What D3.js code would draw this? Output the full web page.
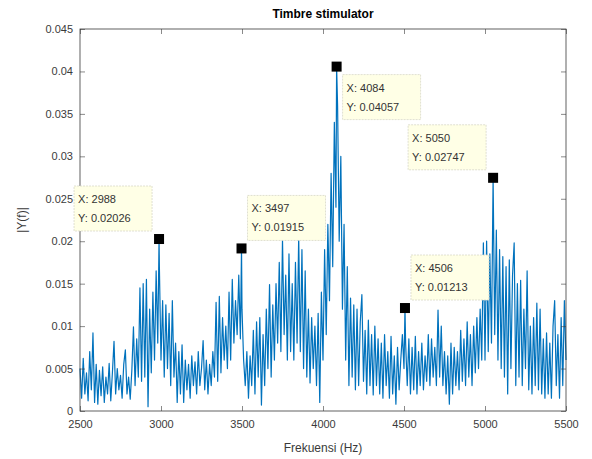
<!DOCTYPE html>
<html>
<head>
  <meta charset="utf-8">
  <title>Timbre stimulator</title>
  <script src="https://d3js.org/d3.v7.min.js"></script>
  <style>
    body { margin: 0; background: #fff; }
    svg text { font-family: "Liberation Sans", Arial, Helvetica, sans-serif; }
  </style>
</head>
<body>
  <div id="chart"></div>
  <script>
    var freqStart = 2500, freqStep = 10;
    var amps = [
      0.0050, 0.0015, 0.0062, 0.0020, 0.0045, 0.0012, 0.0070, 0.0025, 0.0092, 0.0010,
      0.0055, 0.0008, 0.0048, 0.0018, 0.0052, 0.0010, 0.0040, 0.0020, 0.0056, 0.0012,
      0.0045, 0.0082, 0.0020, 0.0050, 0.0025, 0.0042, 0.0015, 0.0055, 0.0072, 0.0020,
      0.0040, 0.0014, 0.0048, 0.0099, 0.0030, 0.0085, 0.0040, 0.0145, 0.0035, 0.0150,
      0.0040, 0.0155, 0.0005, 0.0120, 0.0045, 0.0140, 0.0060, 0.0165, 0.0080, 0.0170,
      0.0060, 0.0130, 0.0040, 0.0125, 0.0050, 0.0115, 0.0030, 0.0130, 0.0040, 0.0080,
      0.0010, 0.0070, 0.0020, 0.0078, 0.0010, 0.0060, 0.0025, 0.0055, 0.0015, 0.0065,
      0.0030, 0.0058, 0.0020, 0.0070, 0.0030, 0.0050, 0.0083, 0.0025, 0.0060, 0.0020,
      0.0055, 0.0030, 0.0070, 0.0040, 0.0128, 0.0035, 0.0135, 0.0045, 0.0110, 0.0060,
      0.0100, 0.0050, 0.0140, 0.0060, 0.0155, 0.0080, 0.0130, 0.0090, 0.0160, 0.0085,
      0.0120, 0.0060, 0.0030, 0.0070, 0.0015, 0.0065, 0.0030, 0.0095, 0.0020, 0.0105,
      0.0040, 0.0110, 0.0007, 0.0090, 0.0030, 0.0120, 0.0050, 0.0149, 0.0040, 0.0125,
      0.0060, 0.0150, 0.0080, 0.0175, 0.0070, 0.0202, 0.0090, 0.0160, 0.0060, 0.0185,
      0.0070, 0.0150, 0.0060, 0.0175, 0.0080, 0.0205, 0.0070, 0.0190, 0.0050, 0.0165,
      0.0040, 0.0120, 0.0033, 0.0110, 0.0050, 0.0100, 0.0030, 0.0115, 0.0010, 0.0140,
      0.0060, 0.0190, 0.0090, 0.0220, 0.0130, 0.0280, 0.0170, 0.0340, 0.0240, 0.0360,
      0.0200, 0.0300, 0.0120, 0.0220, 0.0060, 0.0170, 0.0030, 0.0133, 0.0040, 0.0125,
      0.0025, 0.0120, 0.0030, 0.0105, 0.0137, 0.0035, 0.0095, 0.0020, 0.0107, 0.0030,
      0.0090, 0.0019, 0.0100, 0.0030, 0.0085, 0.0020, 0.0080, 0.0015, 0.0090, 0.0030,
      0.0070, 0.0015, 0.0088, 0.0020, 0.0065, 0.0008, 0.0075, 0.0025, 0.0060, 0.0090,
      0.0050, 0.0080, 0.0030, 0.0085, 0.0020, 0.0075, 0.0025, 0.0088, 0.0020, 0.0070,
      0.0030, 0.0080, 0.0025, 0.0065, 0.0035, 0.0090, 0.0030, 0.0085, 0.0040, 0.0075,
      0.0030, 0.0119, 0.0040, 0.0100, 0.0030, 0.0070, 0.0020, 0.0065, 0.0008, 0.0080,
      0.0020, 0.0075, 0.0030, 0.0070, 0.0025, 0.0095, 0.0035, 0.0085, 0.0030, 0.0105,
      0.0040, 0.0090, 0.0030, 0.0100, 0.0045, 0.0110, 0.0050, 0.0120, 0.0060, 0.0198,
      0.0060, 0.0200, 0.0070, 0.0185, 0.0080, 0.0270, 0.0090, 0.0213, 0.0060, 0.0190,
      0.0050, 0.0182, 0.0040, 0.0170, 0.0020, 0.0178, 0.0050, 0.0160, 0.0198, 0.0030,
      0.0150, 0.0040, 0.0154, 0.0030, 0.0120, 0.0050, 0.0165, 0.0025, 0.0100, 0.0020,
      0.0110, 0.0030, 0.0127, 0.0025, 0.0120, 0.0020, 0.0085, 0.0015, 0.0092, 0.0020,
      0.0080, 0.0015, 0.0100, 0.0130, 0.0030, 0.0090, 0.0015, 0.0110, 0.0030, 0.0130,
      0.0060
    ];

    // data tips shown on the figure
    var tipX = [2988, 3497, 4084, 4506, 5050];
    var tipY = [0.02026, 0.01915, 0.04057, 0.01213, 0.02747];
    var tipSide = ["ul", "ur", "dr", "ur", "ul"]; // where the box sits

    var xTicks = [2500, 3000, 3500, 4000, 4500, 5000, 5500];
    var yTicks = [0, 0.005, 0.01, 0.015, 0.02, 0.025, 0.03, 0.035, 0.04, 0.045];

    var W = 592, H = 459;
    var margin = {top: 29, right: 26, bottom: 48, left: 80};
    var width = W - margin.left - margin.right,
        height = H - margin.top - margin.bottom;

    // build the series, with the tip points merged in
    var series = amps.map(function(v, i) { return {f: freqStart + i * freqStep, v: v}; })
      .filter(function(d) { return tipX.indexOf(d.f) < 0; });
    tipX.forEach(function(f, i) { series.push({f: f, v: tipY[i]}); });
    series.sort(function(a, b) { return a.f - b.f; });

    var svg = d3.select("#chart").append("svg")
      .attr("width", W).attr("height", H);
    var g = svg.append("g")
      .attr("transform", "translate(" + margin.left + "," + margin.top + ")");

    var x = d3.scaleLinear().domain([2500, 5500]).range([0, width]);
    var y = d3.scaleLinear().domain([0, 0.045]).range([height, 0]);

    var axisColor = "#3a3a3a";

    // spectrum line
    g.append("path")
      .datum(series)
      .attr("fill", "none")
      .attr("stroke", "#0072BD")
      .attr("stroke-width", 1.2)
      .attr("stroke-linejoin", "round")
      .attr("d", d3.line().x(function(d) { return x(d.f); }).y(function(d) { return y(d.v); }));

    // axes (MATLAB style: inward ticks, box on)
    function styleAxis(sel) {
      sel.select(".domain").remove();
      sel.selectAll("line").attr("stroke", axisColor).attr("stroke-width", 0.6);
      sel.selectAll("text").attr("fill", axisColor).style("font-size", "11px");
    }
    g.append("g").attr("transform", "translate(0," + height + ")")
      .call(d3.axisBottom(x).tickValues(xTicks).tickSize(-5).tickPadding(9).tickFormat(d3.format("d")))
      .call(styleAxis);
    g.append("g")
      .call(d3.axisTop(x).tickValues(xTicks).tickSize(-5).tickFormat(""))
      .call(styleAxis);
    g.append("g")
      .call(d3.axisLeft(y).tickValues(yTicks).tickSize(-5).tickPadding(7).tickFormat(function(d) { return d3.format("~g")(+d.toFixed(3)); }))
      .call(styleAxis);
    g.append("g").attr("transform", "translate(" + width + ",0)")
      .call(d3.axisRight(y).tickValues(yTicks).tickSize(-5).tickFormat(""))
      .call(styleAxis);
    g.append("rect")
      .attr("width", width).attr("height", height)
      .attr("fill", "none").attr("stroke", axisColor).attr("stroke-width", 0.8);

    // data tips
    var boxW = 78, boxH = 45;
    function boxX(d) { return d.side === "ul" ? x(d.f) - 7 - boxW : x(d.f) + 6; }
    function boxY(d) { return d.side === "dr" ? y(d.v) + 8 : y(d.v) - 8 - boxH; }

    var tips = g.append("g").selectAll("g.tip")
      .data(tipX.map(function(f, i) { return {f: f, v: tipY[i], side: tipSide[i]}; }))
      .enter().append("g").attr("class", "tip");

    tips.append("rect")
      .attr("x", boxX).attr("y", boxY)
      .attr("width", boxW).attr("height", boxH)
      .attr("fill", "#ffffe6").attr("stroke", "#d8d8c8").attr("stroke-width", 0.8)
      .attr("stroke-dasharray", "2,1");
    tips.append("text")
      .attr("x", function(d) { return boxX(d) + 4; })
      .attr("y", function(d) { return boxY(d) + 17; })
      .attr("fill", "#333").style("font-size", "11px")
      .text(function(d) { return "X: " + d.f; });
    tips.append("text")
      .attr("x", function(d) { return boxX(d) + 4; })
      .attr("y", function(d) { return boxY(d) + 36; })
      .attr("fill", "#333").style("font-size", "11px")
      .text(function(d) { return "Y: " + d.v; });
    tips.append("rect")
      .attr("x", function(d) { return x(d.f) - 5; })
      .attr("y", function(d) { return y(d.v) - 5; })
      .attr("width", 10).attr("height", 10)
      .attr("fill", "#000");

    // title and labels
    svg.append("text")
      .attr("x", margin.left + width / 2).attr("y", 18)
      .attr("text-anchor", "middle")
      .style("font-size", "12px").style("font-weight", "bold")
      .attr("fill", "#000").text("Timbre stimulator");
    svg.append("text")
      .attr("x", margin.left + width / 2).attr("y", 452)
      .attr("text-anchor", "middle")
      .style("font-size", "12px").attr("fill", axisColor)
      .text("Frekuensi (Hz)");
    svg.append("text")
      .attr("transform", "translate(26," + (margin.top + height / 2) + ") rotate(-90)")
      .attr("text-anchor", "middle")
      .style("font-size", "12px").attr("fill", axisColor)
      .text("|Y(f)|");
  </script>
</body>
</html>
